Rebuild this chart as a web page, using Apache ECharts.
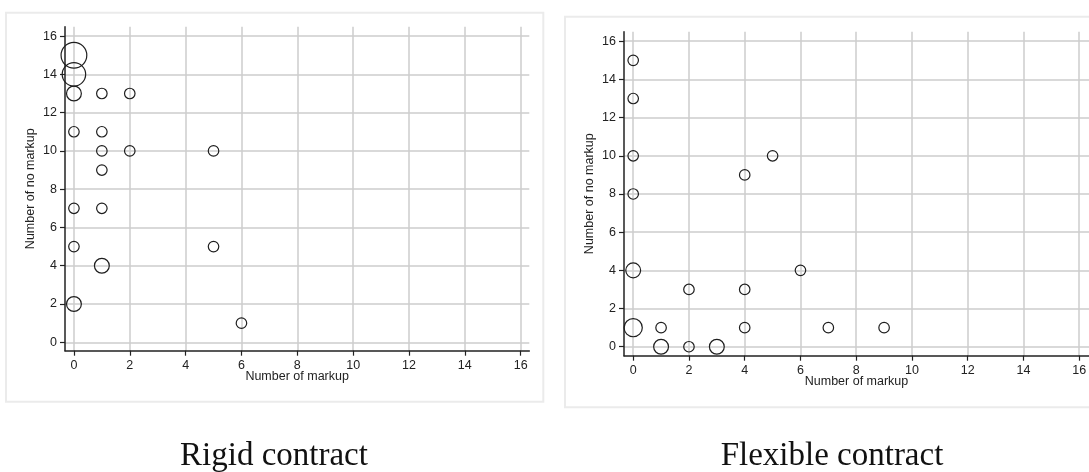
<!DOCTYPE html>
<html>
<head>
<meta charset="utf-8">
<script src="https://cdn.jsdelivr.net/npm/echarts@6/dist/echarts.min.js"></script>
<style>
  html, body { margin: 0; padding: 0; background: #fff; }
  #chart { width: 1089px; height: 472px; }
</style>
</head>
<body>
<div id="chart"></div>
<script>
// tick labels shared by both panels
const tickValues = [0, 2, 4, 6, 8, 10, 12, 14, 16]

// rigid contract: x = markup, y = no markup, n = number of cases at that point
const rigidX = [0, 0, 0, 1, 2, 0, 1, 1, 2, 5, 1, 0, 1, 0, 5, 1, 0, 6]
const rigidY = [15, 14, 13, 13, 13, 11, 11, 10, 10, 10, 9, 7, 7, 5, 5, 4, 2, 1]
const rigidN = [6, 5, 2, 1, 1, 1, 1, 1, 1, 1, 1, 1, 1, 1, 1, 2, 2, 1]

// flexible contract
const flexX = [0, 0, 0, 0, 5, 4, 0, 6, 2, 4, 0, 1, 4, 7, 9, 1, 2, 3]
const flexY = [15, 13, 10, 8, 10, 9, 4, 4, 3, 3, 1, 1, 1, 1, 1, 0, 0, 0]
const flexN = [1, 1, 1, 1, 1, 1, 2, 1, 1, 1, 3, 1, 1, 1, 1, 2, 1, 2]

const captions = ['Rigid contract', 'Flexible contract']

const textColor = '#222'
const font = 'Liberation Sans, Arial, sans-serif'

const toPoints = (xs, ys, ns) => xs.map((x, i) => [x, ys[i], ns[i]])

const makeX = (idx, min, max) => ({
  type: 'value',
  gridIndex: idx,
  min: min,
  max: max,
  name: 'Number of markup',
  nameLocation: 'middle',
  nameGap: 19,
  nameMoveOverlap: false,
  nameTextStyle: { color: textColor, fontSize: 12.5, fontFamily: font },
  axisLine: { show: true, onZero: false, lineStyle: { color: '#222', width: 1.5 } },
  axisTick: { show: true, length: 5, customValues: tickValues, lineStyle: { color: '#222', width: 1.2 } },
  axisLabel: { customValues: tickValues, margin: 8, color: textColor, fontSize: 12.5, fontFamily: font },
  splitLine: { show: true, lineStyle: { color: '#cdcdcd', width: 1.5 } }
})

const makeY = (idx, min, max) => ({
  type: 'value',
  gridIndex: idx,
  min: min,
  max: max,
  name: 'Number of no markup',
  nameLocation: 'middle',
  nameGap: 28,
  nameMoveOverlap: false,
  nameTextStyle: { color: textColor, fontSize: 12.5, fontFamily: font },
  axisLine: { show: true, onZero: false, lineStyle: { color: '#222', width: 1.5 } },
  axisTick: { show: true, length: 5, customValues: tickValues, lineStyle: { color: '#222', width: 1.2 } },
  axisLabel: { customValues: tickValues, margin: 8, color: textColor, fontSize: 12.5, fontFamily: font },
  splitLine: { show: true, lineStyle: { color: '#cdcdcd', width: 1.5 } }
})

const makeSeries = (idx, points) => ({
  type: 'scatter',
  xAxisIndex: idx,
  yAxisIndex: idx,
  data: points,
  symbol: 'circle',
  symbolSize: (val) => 10.5 * Math.sqrt(val[2]),
  itemStyle: { color: 'rgba(0,0,0,0)', borderColor: '#1e1e1e', borderWidth: 1.2, opacity: 1 },
  emphasis: { disabled: true },
  silent: true
})

const option = {
  animation: false,
  backgroundColor: '#fff',
  grid: [
    { left: 65, top: 26.7, width: 464.3, height: 324, outerBoundsMode: 'none' },
    { left: 624, top: 31.7, width: 465, height: 324, outerBoundsMode: 'none' }
  ],
  xAxis: [makeX(0, -0.32, 16.31), makeX(1, -0.33, 16.35)],
  yAxis: [makeY(0, -0.44, 16.49), makeY(1, -0.47, 16.5)],
  series: [
    makeSeries(0, toPoints(rigidX, rigidY, rigidN)),
    makeSeries(1, toPoints(flexX, flexY, flexN))
  ],
  graphic: [
    // panel frames
    { type: 'rect', z: -10, silent: true, shape: { x: 6, y: 12.7, width: 537.3, height: 389 },
      style: { fill: 'none', stroke: '#ebebeb', lineWidth: 2 } },
    { type: 'rect', z: -10, silent: true, shape: { x: 565, y: 16.7, width: 540, height: 390.6 },
      style: { fill: 'none', stroke: '#ebebeb', lineWidth: 2 } },
    // captions under the panels
    { type: 'text', silent: true, x: 274, y: 456,
      style: { text: captions[0], fill: '#111', font: '33px "Liberation Serif", serif', textAlign: 'center', textVerticalAlign: 'middle' } },
    { type: 'text', silent: true, x: 832, y: 456,
      style: { text: captions[1], fill: '#111', font: '33px "Liberation Serif", serif', textAlign: 'center', textVerticalAlign: 'middle' } }
  ]
}

const chart = echarts.init(document.getElementById('chart'))
chart.setOption(option)
</script>
</body>
</html>
